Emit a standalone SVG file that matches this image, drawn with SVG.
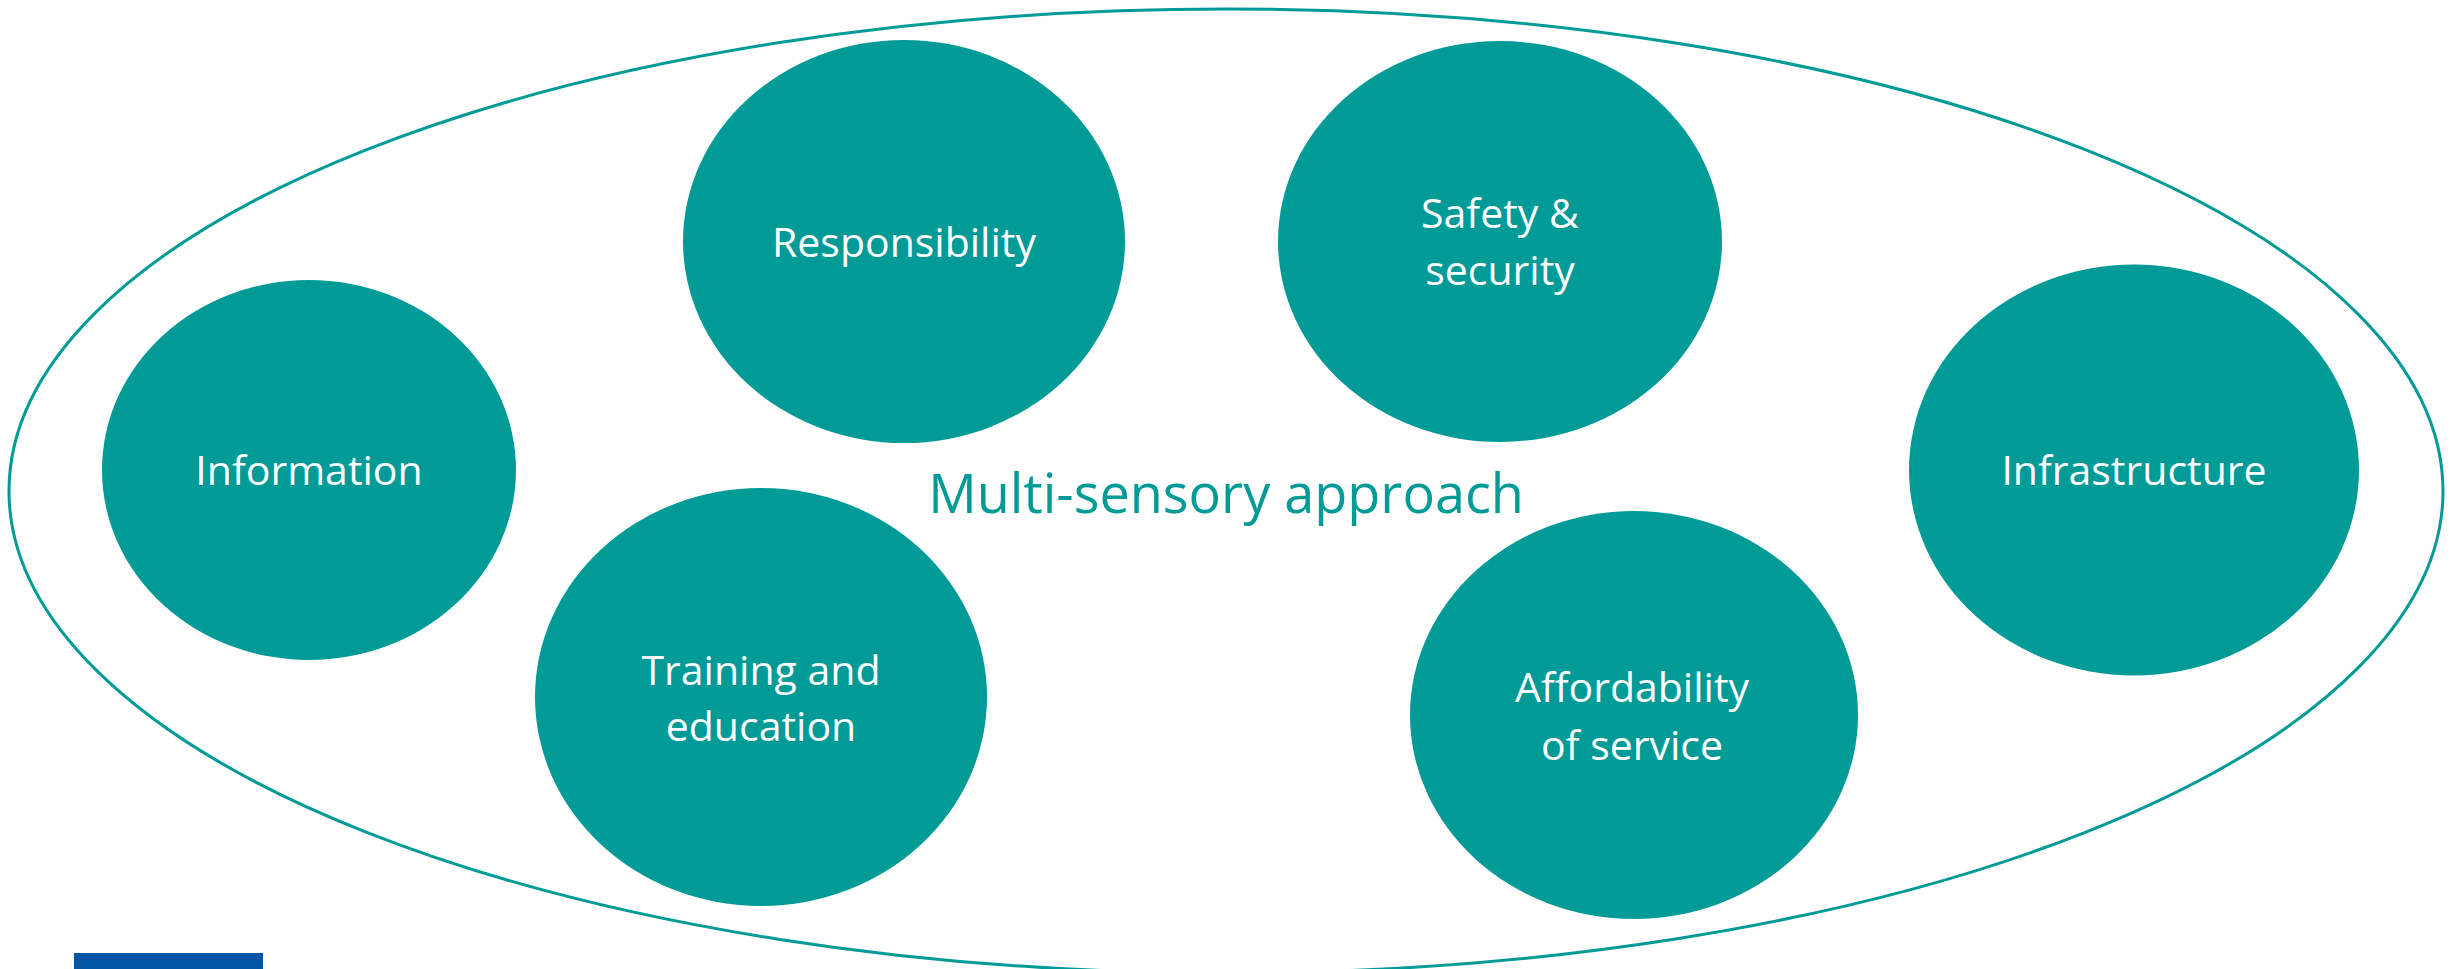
<svg xmlns="http://www.w3.org/2000/svg" width="2458" height="969" viewBox="0 0 2458 969">
<style>
.node{fill:#009a97;}
.lbl{font-family:"Open Sans","Noto Sans",sans-serif;font-size:41px;fill:#ffffff;text-anchor:middle;}
.title{font-family:"Open Sans","Noto Sans",sans-serif;font-size:54px;fill:#009a97;text-anchor:middle;}
</style>
<rect x="0" y="0" width="2458" height="969" fill="#ffffff"/>
<g id="outer">
<ellipse cx="1226" cy="491" rx="1217" ry="482" fill="none" stroke="#009a97" stroke-width="3"/>
<text class="title" x="1226" y="513">Multi-sensory approach</text>
</g>
<g id="connectors"></g>
<g id="information">
<ellipse class="node" cx="309" cy="470" rx="207" ry="190"/>
<text class="lbl" x="309" y="485">Information</text>
</g>
<g id="responsibility">
<ellipse class="node" cx="904" cy="241.5" rx="221" ry="201.5"/>
<text class="lbl" x="904" y="257">Responsibility</text>
</g>
<g id="safety">
<ellipse class="node" cx="1500" cy="241.5" rx="222" ry="200.5"/>
<text class="lbl" x="1500" y="228">Safety &amp;</text>
<text class="lbl" x="1500" y="285">security</text>
</g>
<g id="infrastructure">
<ellipse class="node" cx="2134" cy="470" rx="225" ry="205.5"/>
<text class="lbl" x="2134" y="485">Infrastructure</text>
</g>
<g id="training">
<ellipse class="node" cx="761" cy="697" rx="226" ry="209"/>
<text class="lbl" x="761" y="685">Training and</text>
<text class="lbl" x="761" y="741">education</text>
</g>
<g id="affordability">
<ellipse class="node" cx="1634" cy="715" rx="224" ry="204"/>
<text class="lbl" x="1632" y="702">Affordability</text>
<text class="lbl" x="1632" y="760">of service</text>
</g>
<rect id="bar" x="74" y="953" width="189" height="16" fill="#0055a4"/>
</svg>
